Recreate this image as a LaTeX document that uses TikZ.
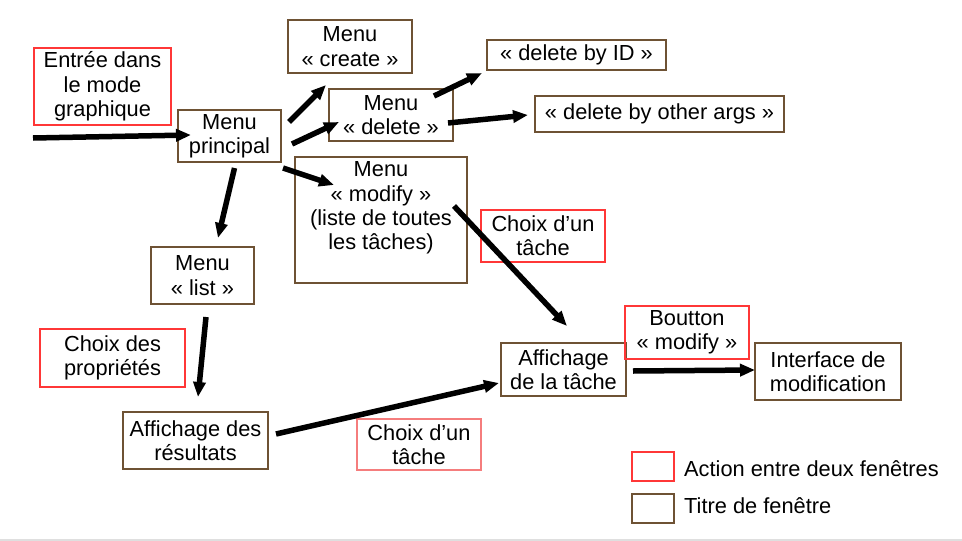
\documentclass[tikz,border=0pt]{standalone}
\usepackage{fontspec}
\setmainfont{Liberation Sans}
\usetikzlibrary{arrows.meta}
\definecolor{winbrown}{RGB}{110,82,52}
\definecolor{actred}{RGB}{255,55,55}
\definecolor{actpink}{RGB}{245,125,125}
\begin{document}
\begin{tikzpicture}[x=1pt,y=-1pt,
  every node/.style={font=\fontsize{21.8}{24.3}\selectfont, align=center, inner sep=0pt},
  win/.style={draw=winbrown, line width=2pt},
  act/.style={draw=actred, line width=2pt},
  flow/.style={line width=5.5pt, -{Triangle[length=15pt,width=12pt]}},
  legtext/.style={anchor=west}]
\useasboundingbox (0,0) rectangle (962,541);
\fill[white] (0,0) rectangle (962,541);
\draw[gray!25, line width=1.5pt] (0,540) -- (962,540);

% boxes
\node[act, minimum width=137pt, minimum height=77pt] (entree) at (102.5,86.5) {Entrée dans\\le mode\\graphique};
\node[win, minimum width=103pt, minimum height=52pt] (mp) at (229.5,136) {Menu\\principal};
\node[win, minimum width=124pt, minimum height=53pt] (create) at (350,46.5) {Menu\\« create »};
\node[win, minimum width=124pt, minimum height=52pt] (delete) at (391,115) {Menu\\« delete »};
\node[win, minimum width=172pt, minimum height=126pt] (modify) at (381,220) {};
\node (modifyt) at ([yshift=12pt]modify.center) {Menu\\« modify »\\(liste de toutes\\les tâches)};
\node[win, minimum width=179pt, minimum height=30pt] (delid) at (576.5,55) {« delete by ID »};
\node[win, minimum width=249pt, minimum height=36pt] (delother) at (659.5,114) {« delete by other args »};
\node[act, minimum width=124pt, minimum height=52pt] (choix1) at (543,236) {Choix d’un\\tâche};
\node[win, minimum width=103pt, minimum height=57pt] (list) at (202.5,275.5) {Menu\\« list »};
\node[act, minimum width=145pt, minimum height=58pt] (choixprop) at (112.5,358) {Choix des\\propriétés};
\node[win, minimum width=145pt, minimum height=57pt] (resultats) at (195.5,440.5) {Affichage des\\résultats};
\node[draw=actpink, line width=2pt, minimum width=124pt, minimum height=51pt] (choix2) at (419,444.5) {Choix d’un\\tâche};
\node[win, minimum width=125pt, minimum height=53pt] (tache) at (563.5,369.5) {Affichage\\de la tâche};
\node[act, minimum width=124pt, minimum height=53pt] (boutton) at (687,332.5) {Boutton\\« modify »};
\node[win, minimum width=146pt, minimum height=57pt] (interface) at (828,371.5) {Interface de\\modification};

% legend
\node[act, minimum width=42pt, minimum height=29pt] (leg1) at (653,466.5) {};
\node[win, minimum width=42pt, minimum height=29pt] (leg2) at (653,508.5) {};
\node[legtext] (leg1t) at ([xshift=9pt,yshift=-2.5pt]leg1.east) {Action entre deux fenêtres};
\node[legtext] (leg2t) at ([xshift=9pt,yshift=3pt]leg2.east) {Titre de fenêtre};

% arrows
\draw[flow] ([shift={(0,12)}]entree.south west) -- ([shift={(14,-1)}]mp.west);
\draw[flow] ([shift={(7,13)}]mp.north east) -- ([shift={(39,11)}]create.south west);
\draw[flow] ([shift={(10,8)}]mp.east) -- ([shift={(11,7)}]delete.west);
\draw[flow] ([shift={(-20,8)}]delete.north east) -- ([shift={(-4,2)}]delid.south west);
\draw[flow] ([shift={(-6,8)}]delete.east) -- ([shift={(-6,1)}]delother.west);
\draw[flow] ([shift={(1,5)}]mp.south east) -- ([shift={(40,29)}]modify.north west);
\draw[flow] ([shift={(5,5)}]mp.south) -- ([shift={(15.5,-8)}]list.north);
\draw[flow] ([shift={(-14,-14)}]modify.east) -- ([shift={(3.5,-16)}]tache.north);
\draw[flow] ([shift={(3.5,12)}]list.south) -- ([shift={(2.5,-14)}]resultats.north);
\draw[flow] ([shift={(7,-6.5)}]resultats.east) -- ([shift={(-1,13.5)}]tache.west);
\draw[flow] ([shift={(6,1.5)}]tache.east) -- ([shift={(1,-1.5)}]interface.west);
\end{tikzpicture}
\end{document}
